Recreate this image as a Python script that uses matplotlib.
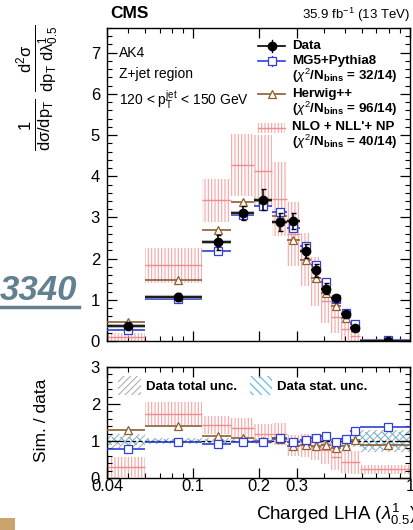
import numpy as np
import matplotlib
matplotlib.use('Agg')
import matplotlib.pyplot as plt
import matplotlib.ticker as ticker
from matplotlib.lines import Line2D
from matplotlib.patches import Rectangle

plt.rcParams.update({
    'font.family': ['Liberation Sans', 'DejaVu Sans'],
    'mathtext.fontset': 'custom',
    'mathtext.rm': 'Liberation Sans',
    'mathtext.it': 'Liberation Sans:italic',
    'mathtext.bf': 'Liberation Sans:bold',
    'hatch.linewidth': 0.8,
    'xtick.direction': 'in',
    'ytick.direction': 'in',
    'axes.linewidth': 1.0,
})

# Charged LHA bins (first bin starts at the axis minimum)
bin_edges = [0.04, 0.06, 0.11, 0.15, 0.19, 0.23, 0.27, 0.31, 0.35, 0.39, 0.43, 0.48, 0.53, 0.59, 1.0]
bin_centers = [0.05, 0.085, 0.13, 0.17, 0.21, 0.25, 0.29, 0.33, 0.37, 0.41, 0.455, 0.505, 0.56, 0.795]

# main panel
data = [0.36, 1.06, 2.40, 3.12, 3.43, 2.89, 2.92, 2.19, 1.72, 1.27, 1.04, 0.65, 0.32, 0.01]
data_err = [0.08, 0.10, 0.18, 0.17, 0.25, 0.21, 0.19, 0.17, 0.16, 0.13, 0.08, 0.06, 0.05, 0.01]
mg5 = [0.27, 1.01, 2.18, 3.07, 3.29, 3.13, 2.74, 2.31, 1.85, 1.43, 1.02, 0.68, 0.42, 0.02]
herwig = [0.46, 1.48, 2.70, 3.38, 3.40, 3.03, 2.46, 1.97, 1.52, 1.16, 0.85, 0.56, 0.33, 0.01]
nlo = [0.10, 1.84, 3.42, 4.28, 4.13, 3.45, 2.60, 1.98, 1.45, 0.98, 0.59, 0.28, 0.13, 0.00]
nlo_err = [0.09, 0.43, 0.52, 0.75, 0.86, 0.90, 0.78, 0.65, 0.60, 0.55, 0.40, 0.25, 0.15, 0.02]

# ratio panel
ratio_mg5 = [0.78, 0.96, 0.92, 0.98, 0.97, 1.07, 0.97, 1.04, 1.08, 1.14, 0.98, 1.05, 1.28, 1.39]
ratio_herwig = [1.30, 1.40, 1.13, 1.08, 1.01, 1.06, 0.86, 0.88, 0.86, 0.89, 0.82, 0.86, 1.02, 0.88]
ratio_nlo = [0.30, 1.74, 1.43, 1.36, 1.20, 1.19, 0.88, 0.88, 0.84, 0.77, 0.57, 0.44, 0.42, 0.23]
ratio_nlo_err = [0.26, 0.32, 0.25, 0.25, 0.25, 0.30, 0.28, 0.30, 0.35, 0.40, 0.35, 0.30, 0.30, 0.12]
ratio_tot = [0.20, 0.09, 0.08, 0.06, 0.07, 0.08, 0.07, 0.08, 0.10, 0.10, 0.08, 0.10, 0.15, 0.30]
ratio_stat = [0.12, 0.06, 0.05, 0.04, 0.05, 0.05, 0.05, 0.06, 0.07, 0.07, 0.06, 0.07, 0.10, 0.25]

BLUE = '#2f3fd8'
BROWN = '#8b5e34'
PINK = '#f5a3a3'
PINK_LINE = '#f08c8c'
GREY = '#b0b0b0'
CYAN = '#55b8e0'

W, H = 413, 530


def fpos(x, y):
    # pixel position -> figure fraction
    return x / W, 1 - y / H


fig = plt.figure(figsize=(W / 100, H / 100), dpi=100)
ax = fig.add_axes([107 / W, 1 - 341 / H, 303 / W, 313 / H])
rax = fig.add_axes([107 / W, 1 - 478 / H, 303 / W, 111 / H])

lo = np.array(bin_edges[:-1])
hi = np.array(bin_edges[1:])
width = hi - lo

# ---- main panel ----
ax.bar(lo, 2 * np.array(nlo_err), width=width, bottom=np.array(nlo) - np.array(nlo_err),
       align='edge', fill=False, hatch='|||||', edgecolor=PINK, linewidth=0, zorder=1)
ax.hlines(nlo, lo, hi, color=PINK_LINE, lw=1.0, zorder=2)

ax.hlines(herwig, lo, hi, color=BROWN, lw=1.2, zorder=3)
ax.plot(bin_centers, herwig, ls='none', marker='^', ms=6, mfc='#fffaf0', mec=BROWN, mew=0.9, zorder=4)

ax.hlines(mg5, lo, hi, color=BLUE, lw=1.2, zorder=3)
ax.errorbar(bin_centers, mg5, yerr=0.05, ls='none', marker='s', ms=5.5, mfc='white', mec=BLUE,
            mew=0.9, ecolor=BLUE, elinewidth=0.9, capsize=2, zorder=4)

# data: thin grey underlay then black bin line, points and error bars
ax.hlines(data, lo, hi, color='#8a8a8a', lw=3.0, alpha=0.6, zorder=5)
ax.hlines(data, lo, hi, color='black', lw=1.2, zorder=5)
ax.errorbar(bin_centers, data, yerr=data_err, ls='none', marker='o', ms=6, color='black',
            elinewidth=1.1, capsize=1.8, zorder=6)

ax.set_xscale('log')
ax.set_xlim(0.04, 1.0)
ax.set_ylim(0, 7.6)
ax.yaxis.set_major_locator(ticker.MultipleLocator(1))
ax.yaxis.set_minor_locator(ticker.MultipleLocator(0.2))

# ---- ratio panel ----
rax.bar(lo, 2 * np.array(ratio_tot), width=width, bottom=1 - np.array(ratio_tot), align='edge',
        fill=False, hatch='/////', edgecolor=GREY, linewidth=0, zorder=1)
rax.bar(lo, 2 * np.array(ratio_stat), width=width, bottom=1 - np.array(ratio_stat), align='edge',
        fill=False, hatch='\\\\\\\\', edgecolor=CYAN, linewidth=0, zorder=1)
rax.axhline(1, color='black', ls=(0, (3, 2)), lw=0.9, zorder=2)

rax.bar(lo, 2 * np.array(ratio_nlo_err), width=width, bottom=np.array(ratio_nlo) - np.array(ratio_nlo_err),
        align='edge', fill=False, hatch='|||||', edgecolor=PINK, linewidth=0, zorder=1)
rax.hlines(ratio_nlo, lo, hi, color=PINK_LINE, lw=1.0, zorder=2)

rax.hlines(ratio_herwig, lo, hi, color=BROWN, lw=1.2, zorder=3)
rax.plot(bin_centers, ratio_herwig, ls='none', marker='^', ms=6, mfc='#fffaf0', mec=BROWN, mew=0.9, zorder=4)
rax.hlines(ratio_mg5, lo, hi, color=BLUE, lw=1.2, zorder=3)
rax.plot(bin_centers, ratio_mg5, ls='none', marker='s', ms=5.5, mfc='white', mec=BLUE, mew=0.9, zorder=4)

rax.set_xscale('log')
rax.set_xlim(0.04, 1.0)
rax.set_ylim(0, 3)
rax.yaxis.set_major_locator(ticker.MultipleLocator(1))
rax.yaxis.set_minor_locator(ticker.MultipleLocator(0.2))

major_x = [0.04, 0.1, 0.2, 0.3, 1.0]
minor_x = [0.05, 0.06, 0.07, 0.08, 0.09, 0.4, 0.5, 0.6, 0.7, 0.8, 0.9]
for a in (ax, rax):
    a.xaxis.set_major_locator(ticker.FixedLocator(major_x))
    a.xaxis.set_minor_locator(ticker.FixedLocator(minor_x))
    a.xaxis.set_minor_formatter(ticker.NullFormatter())
    a.tick_params(which='both', top=True, right=True, labelsize=12)
    a.tick_params(which='major', length=7, width=0.9)
    a.tick_params(which='minor', length=3.5, width=0.8)
ax.tick_params(axis='x', labelbottom=False)
ax.tick_params(axis='y', pad=5)
rax.xaxis.set_major_formatter(ticker.FixedFormatter(['0.04', '0.1', '0.2', '0.3', '1']))
rax.tick_params(axis='x', pad=1)
rax.tick_params(axis='y', which='major', length=9, pad=5)

# ---- texts ----
fig.text(*fpos(110, 14), 'CMS', fontsize=12.5, fontweight='bold', va='center', ha='left')
fig.text(*fpos(410, 15), r'35.9 fb$^{-1}$ (13 TeV)', fontsize=9.5, va='center', ha='right')
fig.text(*fpos(119, 53), 'AK4', fontsize=10, va='center')
fig.text(*fpos(119, 74), 'Z+jet region', fontsize=10, va='center')
fig.text(*fpos(119, 100), r'120 < p$_{\mathrm{T}}^{\mathrm{jet}}$ < 150 GeV', fontsize=10, va='center')

fig.text(*fpos(38, 88),
         r'$\frac{1}{\mathrm{d\sigma/dp_{T}}}\ \frac{\mathrm{d^{2}\sigma}}{\mathrm{dp_{T}\ d\lambda^{1}_{0.5}}}$',
         fontsize=17, rotation=90, ha='center', va='center')
fig.text(*fpos(42, 420), 'Sim. / data', fontsize=12.5, rotation=90, ha='center', va='center')
fig.text(*fpos(416, 514), r'Charged LHA ($\lambda^{1}_{0.5}$)', fontsize=13.5, ha='right', va='center')

# legend (main panel)
leg_rows = [
    ('Data', 46), ('MG5+Pythia8', 61), (r'($\chi^{2}$/N$_{\mathbf{bins}}$ = 32/14)', 76),
    ('Herwig++', 94), (r'($\chi^{2}$/N$_{\mathbf{bins}}$ = 96/14)', 109),
    ("NLO + NLL'+ NP", 127), (r'($\chi^{2}$/N$_{\mathbf{bins}}$ = 40/14)', 142),
]
for label, y in leg_rows:
    fig.text(*fpos(292, y), label, fontsize=9.6, fontweight='bold', va='center', ha='left')

x0, x1, xm = 258, 285, 271.5
for y, col in ((46, 'black'), (61, BLUE), (94, BROWN)):
    fig.add_artist(Line2D([x0 / W, x1 / W], [1 - y / H, 1 - y / H], color=col, lw=1.2))
xa, ya = fpos(xm, 46)
fig.add_artist(Line2D([xa, xa], [1 - 40 / H, 1 - 52 / H], color='black', lw=1.0))
fig.add_artist(Line2D([xa], [ya], marker='o', ms=6, color='black'))
xa, ya = fpos(xm, 61)
fig.add_artist(Line2D([xa, xa], [1 - 56 / H, 1 - 66 / H], color=BLUE, lw=0.9))
fig.add_artist(Line2D([xa], [ya], marker='s', ms=5.5, mfc='white', mec=BLUE, mew=0.9))
xa, ya = fpos(xm, 94)
fig.add_artist(Line2D([xa], [ya], marker='^', ms=6, mfc='#fffaf0', mec=BROWN, mew=0.9))
fig.add_artist(Rectangle(fpos(x0, 133), (x1 - x0) / W, 10 / H, transform=fig.transFigure,
                         fill=False, hatch='|||||', edgecolor=PINK, linewidth=0))
fig.add_artist(Line2D([x0 / W, x1 / W], [1 - 128 / H, 1 - 128 / H], color=PINK_LINE, lw=1.0))

# legend (ratio panel)
fig.add_artist(Rectangle(fpos(118, 395), 23 / W, 19 / H, transform=fig.transFigure,
                         fill=False, hatch='/////', edgecolor=GREY, linewidth=0))
fig.text(*fpos(146, 387), 'Data total unc.', fontsize=9.5, fontweight='bold', va='center')
fig.add_artist(Rectangle(fpos(250, 395), 22 / W, 19 / H, transform=fig.transFigure,
                         fill=False, hatch='\\\\\\\\', edgecolor=CYAN, linewidth=0))
fig.text(*fpos(277, 387), 'Data stat. unc.', fontsize=9.5, fontweight='bold', va='center')

# page overlay bits visible in the crop
fig.text(*fpos(0, 291), '3340', fontsize=25, fontweight='bold', fontstyle='italic',
         color='#62808f', va='center', ha='left')
fig.add_artist(Line2D([0, 79 / W], [1 - 307 / H, 1 - 307 / H], color='#62808f', lw=2.5))
fig.add_artist(Rectangle(fpos(0, 530), 15 / W, 12 / H, transform=fig.transFigure,
                         color='#c9a46e', lw=0))

fig.savefig('out.png', dpi=100)
